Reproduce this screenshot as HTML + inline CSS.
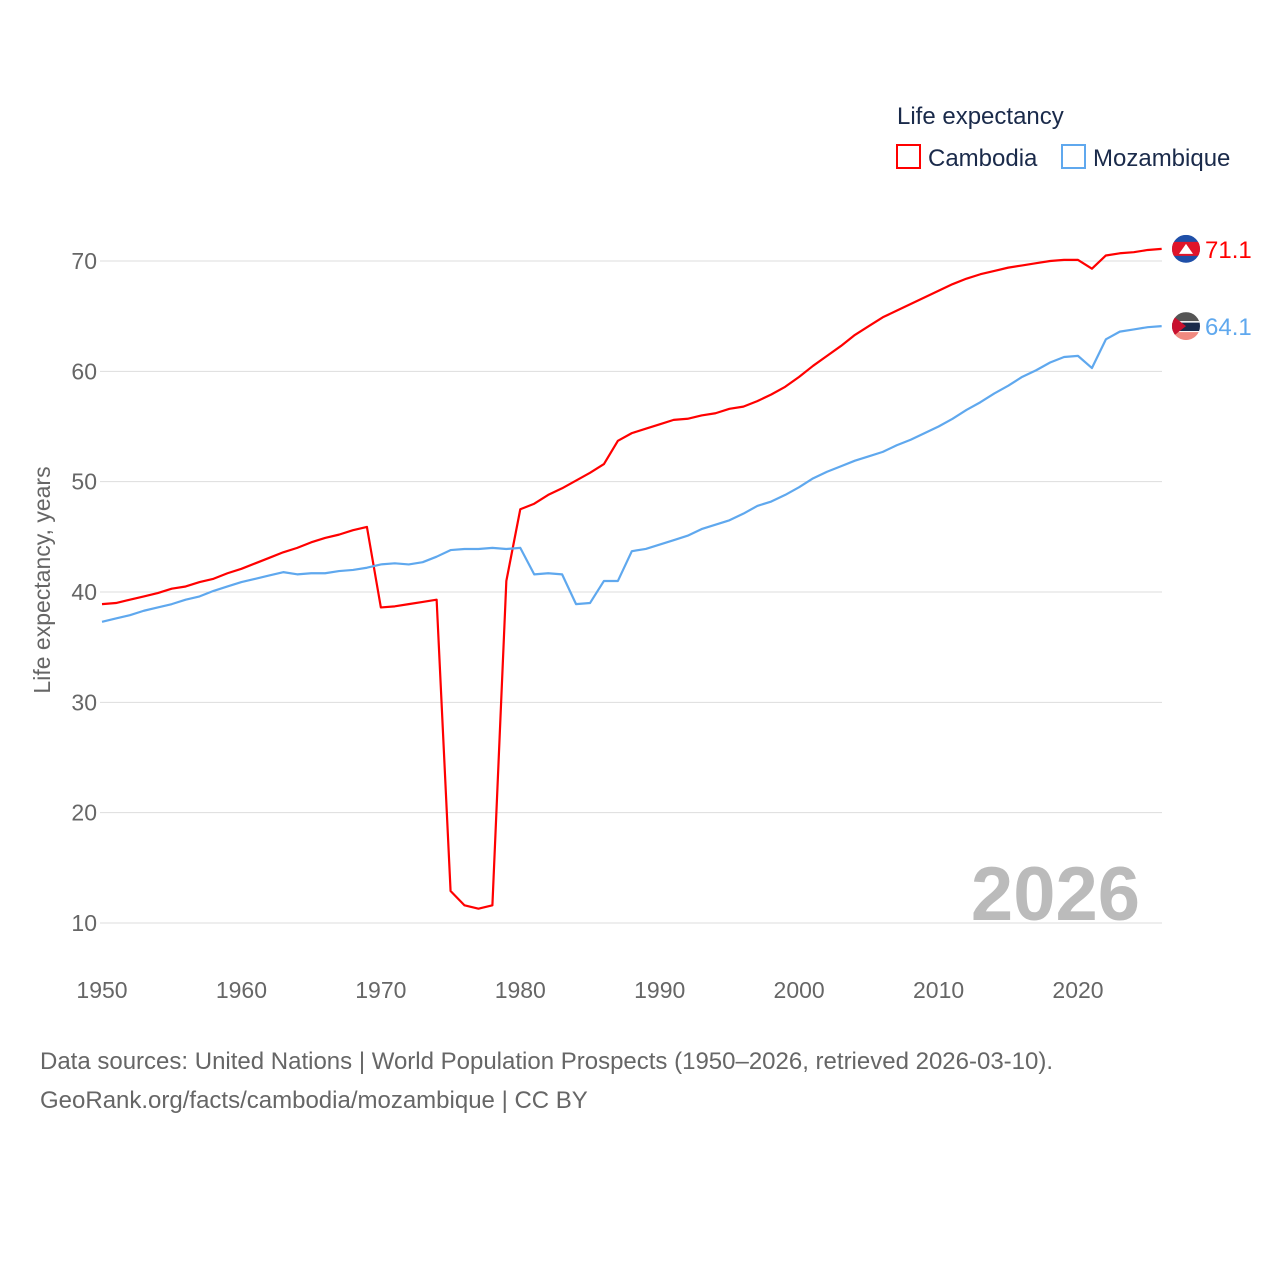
<!DOCTYPE html>
<html><head><meta charset="utf-8"><style>
body{margin:0;background:#fff;width:1280px;height:1280px;overflow:hidden;font-family:"Liberation Sans",sans-serif}
</style></head><body>
<svg width="1280" height="1280">
<defs>
<clipPath id="cbclip"><circle id="cbc" cx="1186" cy="0" r="14"/></clipPath>
<clipPath id="mzclip"><circle id="mzc" cx="1186" cy="0" r="14"/></clipPath>
</defs>
<g id="grid"></g>
<g id="yt"></g>
<g id="xt"></g>
<text transform="translate(50,580) rotate(-90)" text-anchor="middle" font-size="23" fill="#666">Life expectancy, years</text>
<text x="1140" y="920" text-anchor="end" font-size="76" font-weight="bold" fill="#bbb">2026</text>
<g id="lines"></g>
<g id="cbflag" clip-path="url(#cbclip)"></g>
<g id="mzflag" clip-path="url(#mzclip)"></g>
<text x="897" y="124" font-size="24" fill="#1a2a4a">Life expectancy</text>
<g><rect x="897" y="145" width="23" height="23" fill="none" stroke="#f00" stroke-width="2"/><text x="928" y="166" font-size="24" fill="#1a2a4a">Cambodia</text></g>
<g><rect x="1062" y="145" width="23" height="23" fill="none" stroke="#5fa8ee" stroke-width="2"/><text x="1093" y="166" font-size="24" fill="#1a2a4a">Mozambique</text></g>
<text x="40" y="1069" font-size="24" fill="#666">Data sources: United Nations | World Population Prospects (1950–2026, retrieved 2026-03-10).</text>
<text x="40" y="1108" font-size="24" fill="#666">GeoRank.org/facts/cambodia/mozambique | CC BY</text>
</svg>
<script>
const years=[];for(let y=1950;y<=2026;y++)years.push(y);
const cambodia=[38.9,39.0,39.3,39.6,39.9,40.3,40.5,40.9,41.2,41.7,42.1,42.6,43.1,43.6,44.0,44.5,44.9,45.2,45.6,45.9,38.6,38.7,38.9,39.1,39.3,12.9,11.6,11.3,11.6,41.0,47.5,48.0,48.8,49.4,50.1,50.8,51.6,53.7,54.4,54.8,55.2,55.6,55.7,56.0,56.2,56.6,56.8,57.3,57.9,58.6,59.5,60.5,61.4,62.3,63.3,64.1,64.9,65.5,66.1,66.7,67.3,67.9,68.4,68.8,69.1,69.4,69.6,69.8,70.0,70.1,70.1,69.3,70.5,70.7,70.8,71.0,71.1];
const mozambique=[37.3,37.6,37.9,38.3,38.6,38.9,39.3,39.6,40.1,40.5,40.9,41.2,41.5,41.8,41.6,41.7,41.7,41.9,42.0,42.2,42.5,42.6,42.5,42.7,43.2,43.8,43.9,43.9,44.0,43.9,44.0,41.6,41.7,41.6,38.9,39.0,41.0,41.0,43.7,43.9,44.3,44.7,45.1,45.7,46.1,46.5,47.1,47.8,48.2,48.8,49.5,50.3,50.9,51.4,51.9,52.3,52.7,53.3,53.8,54.4,55.0,55.7,56.5,57.2,58.0,58.7,59.5,60.1,60.8,61.3,61.4,60.3,62.9,63.6,63.8,64.0,64.1];
const yTicks=[10,20,30,40,50,60,70];
const xTicks=[1950,1960,1970,1980,1990,2000,2010,2020];
const X=y=>102+(y-1950)*(976/70);
const Y=v=>923-(v-10)*(662/60);
const NS='http://www.w3.org/2000/svg';
function mk(t,a,p){const e=document.createElementNS(NS,t);for(const k in a)e.setAttribute(k,a[k]);p.appendChild(e);return e;}
const grid=document.getElementById('grid'),yt=document.getElementById('yt'),xt=document.getElementById('xt'),lines=document.getElementById('lines');
yTicks.forEach(v=>{
 const l=mk('line',{x1:100,x2:1162,y1:Y(v),y2:Y(v),stroke:'#ddd','stroke-width':1},grid);
 
 
 const t=mk('text',{x:97,y:Y(v)+8,'text-anchor':'end','font-size':23,fill:'#666'},yt);t.textContent=v;
 
 
});
xTicks.forEach(v=>{
 const t=mk('text',{x:X(v),y:998,'text-anchor':'middle','font-size':23,fill:'#666'},xt);t.textContent=v;
 
 
});
function series(vals,col,name){
 const p=mk('polyline',{points:vals.map((v,i)=>X(years[i])+','+Y(v)).join(' '),fill:'none',stroke:col,'stroke-width':2.2,'stroke-linejoin':'round'},lines);
 
 
 const last=vals[vals.length-1],cy=Y(last);
 const t=mk('text',{x:1205,y:cy+9,'font-size':24,fill:col},lines);t.textContent=last.toFixed(1);
 
 
}
series(cambodia,'#f00','cambodia');
series(mozambique,'#5fa8ee','mozambique');
const cb=Y(cambodia[cambodia.length-1]);
document.getElementById('cbc').setAttribute('cy',cb);
const cf=document.getElementById('cbflag');
mk('rect',{x:1172,y:cb-14,width:28,height:28,fill:'#1f4fa8'},cf);
mk('rect',{x:1172,y:cb-7,width:28,height:14,fill:'#e0142a'},cf);
mk('polygon',{points:`1179,${cb+5} 1186,${cb-5} 1193,${cb+5}`,fill:'#fff'},cf);
const mz=Y(mozambique[mozambique.length-1]);
document.getElementById('mzc').setAttribute('cy',mz);
const mf=document.getElementById('mzflag');
mk('rect',{x:1172,y:mz-14,width:28,height:10,fill:'#555'},mf);
mk('rect',{x:1172,y:mz-4,width:28,height:9,fill:'#1a2a4a'},mf);
mk('rect',{x:1172,y:mz-5,width:28,height:1.5,fill:'#fff'},mf);
mk('rect',{x:1172,y:mz+5,width:28,height:1.5,fill:'#fff'},mf);
mk('rect',{x:1172,y:mz+6,width:28,height:8,fill:'#f08a80'},mf);
mk('polygon',{points:`1172,${mz-11} 1186,${mz} 1172,${mz+11}`,fill:'#c8102e'},mf);
</script>
</body></html>
